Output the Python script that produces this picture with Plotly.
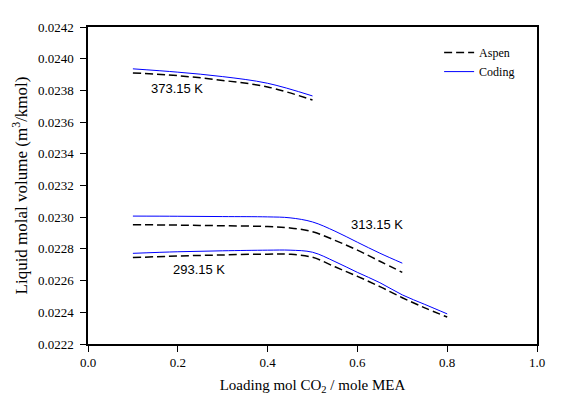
import plotly.graph_objects as go

x_373 = [0.1, 0.2, 0.3, 0.4, 0.5]
coding_373 = [0.023936, 0.023915, 0.023887, 0.023845, 0.023765]
aspen_373 = [0.023910, 0.023893, 0.023863, 0.023822, 0.023739]

x_313 = [0.1, 0.2, 0.3, 0.4, 0.45, 0.5, 0.55, 0.6, 0.65, 0.7]
coding_313 = [0.023007, 0.023006, 0.023004, 0.023002, 0.022996, 0.022970, 0.022912, 0.022842, 0.022773, 0.022710]
aspen_313 = [0.022953, 0.022950, 0.022946, 0.022941, 0.022932, 0.022908, 0.022854, 0.022792, 0.022722, 0.022652]

x_293 = [0.1, 0.2, 0.3, 0.4, 0.45, 0.5, 0.55, 0.6, 0.65, 0.7, 0.75, 0.8]
coding_293 = [0.022772, 0.022782, 0.022788, 0.022792, 0.022792, 0.022779, 0.022720, 0.022652, 0.022587, 0.022510, 0.022450, 0.022390]
aspen_293 = [0.022745, 0.022755, 0.022762, 0.022767, 0.022766, 0.022747, 0.022687, 0.022627, 0.022562, 0.022492, 0.022428, 0.022370]

labels = ["373.15 K", "313.15 K", "293.15 K"]
label_x = [0.198, 0.644, 0.247]
label_y = [0.023811, 0.022951, 0.022669]

fig = go.Figure()
series = [(x_373, aspen_373, coding_373), (x_313, aspen_313, coding_313), (x_293, aspen_293, coding_293)]
for i, (xs, asp, cod) in enumerate(series):
    fig.add_trace(go.Scatter(x=xs, y=asp, mode="lines", name="Aspen",
                             line=dict(color="black", width=1.5, dash="8px,4px", shape="spline", smoothing=1.0),
                             showlegend=(i == 0), legendgroup="a"))
    fig.add_trace(go.Scatter(x=xs, y=cod, mode="lines", name="Coding",
                             line=dict(color="#0000ff", width=1, shape="spline", smoothing=1.0),
                             showlegend=(i == 0), legendgroup="c"))

for t, lx, ly in zip(labels, label_x, label_y):
    fig.add_annotation(x=lx, y=ly, text=t, showarrow=False,
                       font=dict(family="Liberation Sans, Arial", size=13, color="black"))

axis_common = dict(showgrid=False, zeroline=False, showline=True, linecolor="black", linewidth=1.5,
                   mirror=True, ticks="outside", ticklen=6, tickwidth=1.2, tickcolor="black",
                   tickfont=dict(family="Liberation Serif, Times New Roman", size=13, color="black"))

fig.update_xaxes(range=[0, 1.0], dtick=0.2, tickformat=".1f",
                 title=dict(text="Loading mol CO<sub>2</sub> / mole MEA",
                            font=dict(family="Liberation Serif, Times New Roman", size=15, color="black"),
                            standoff=10),
                 **axis_common)
fig.update_yaxes(range=[0.0222, 0.0242], dtick=0.0002, tickformat=".4f", ticklabelstandoff=4,
                 title=dict(text="Liquid molal volume (m<sup>3</sup>/kmol)",
                            font=dict(family="Liberation Serif, Times New Roman", size=17, color="black"),
                            standoff=6),
                 **axis_common)

# page body has an 8px margin, so the figure is shrunk by 8px and margins shifted accordingly
fig.update_layout(
    width=559, height=397,
    margin=dict(l=80, r=30, t=12, b=61),
    plot_bgcolor="white", paper_bgcolor="white",
    legend=dict(x=0.782, y=0.965, xanchor="left", yanchor="top", bgcolor="rgba(0,0,0,0)",
                font=dict(family="Liberation Serif, Times New Roman", size=12, color="black"),
                tracegroupgap=0, itemwidth=30),
)

fig.write_html("out.html")
